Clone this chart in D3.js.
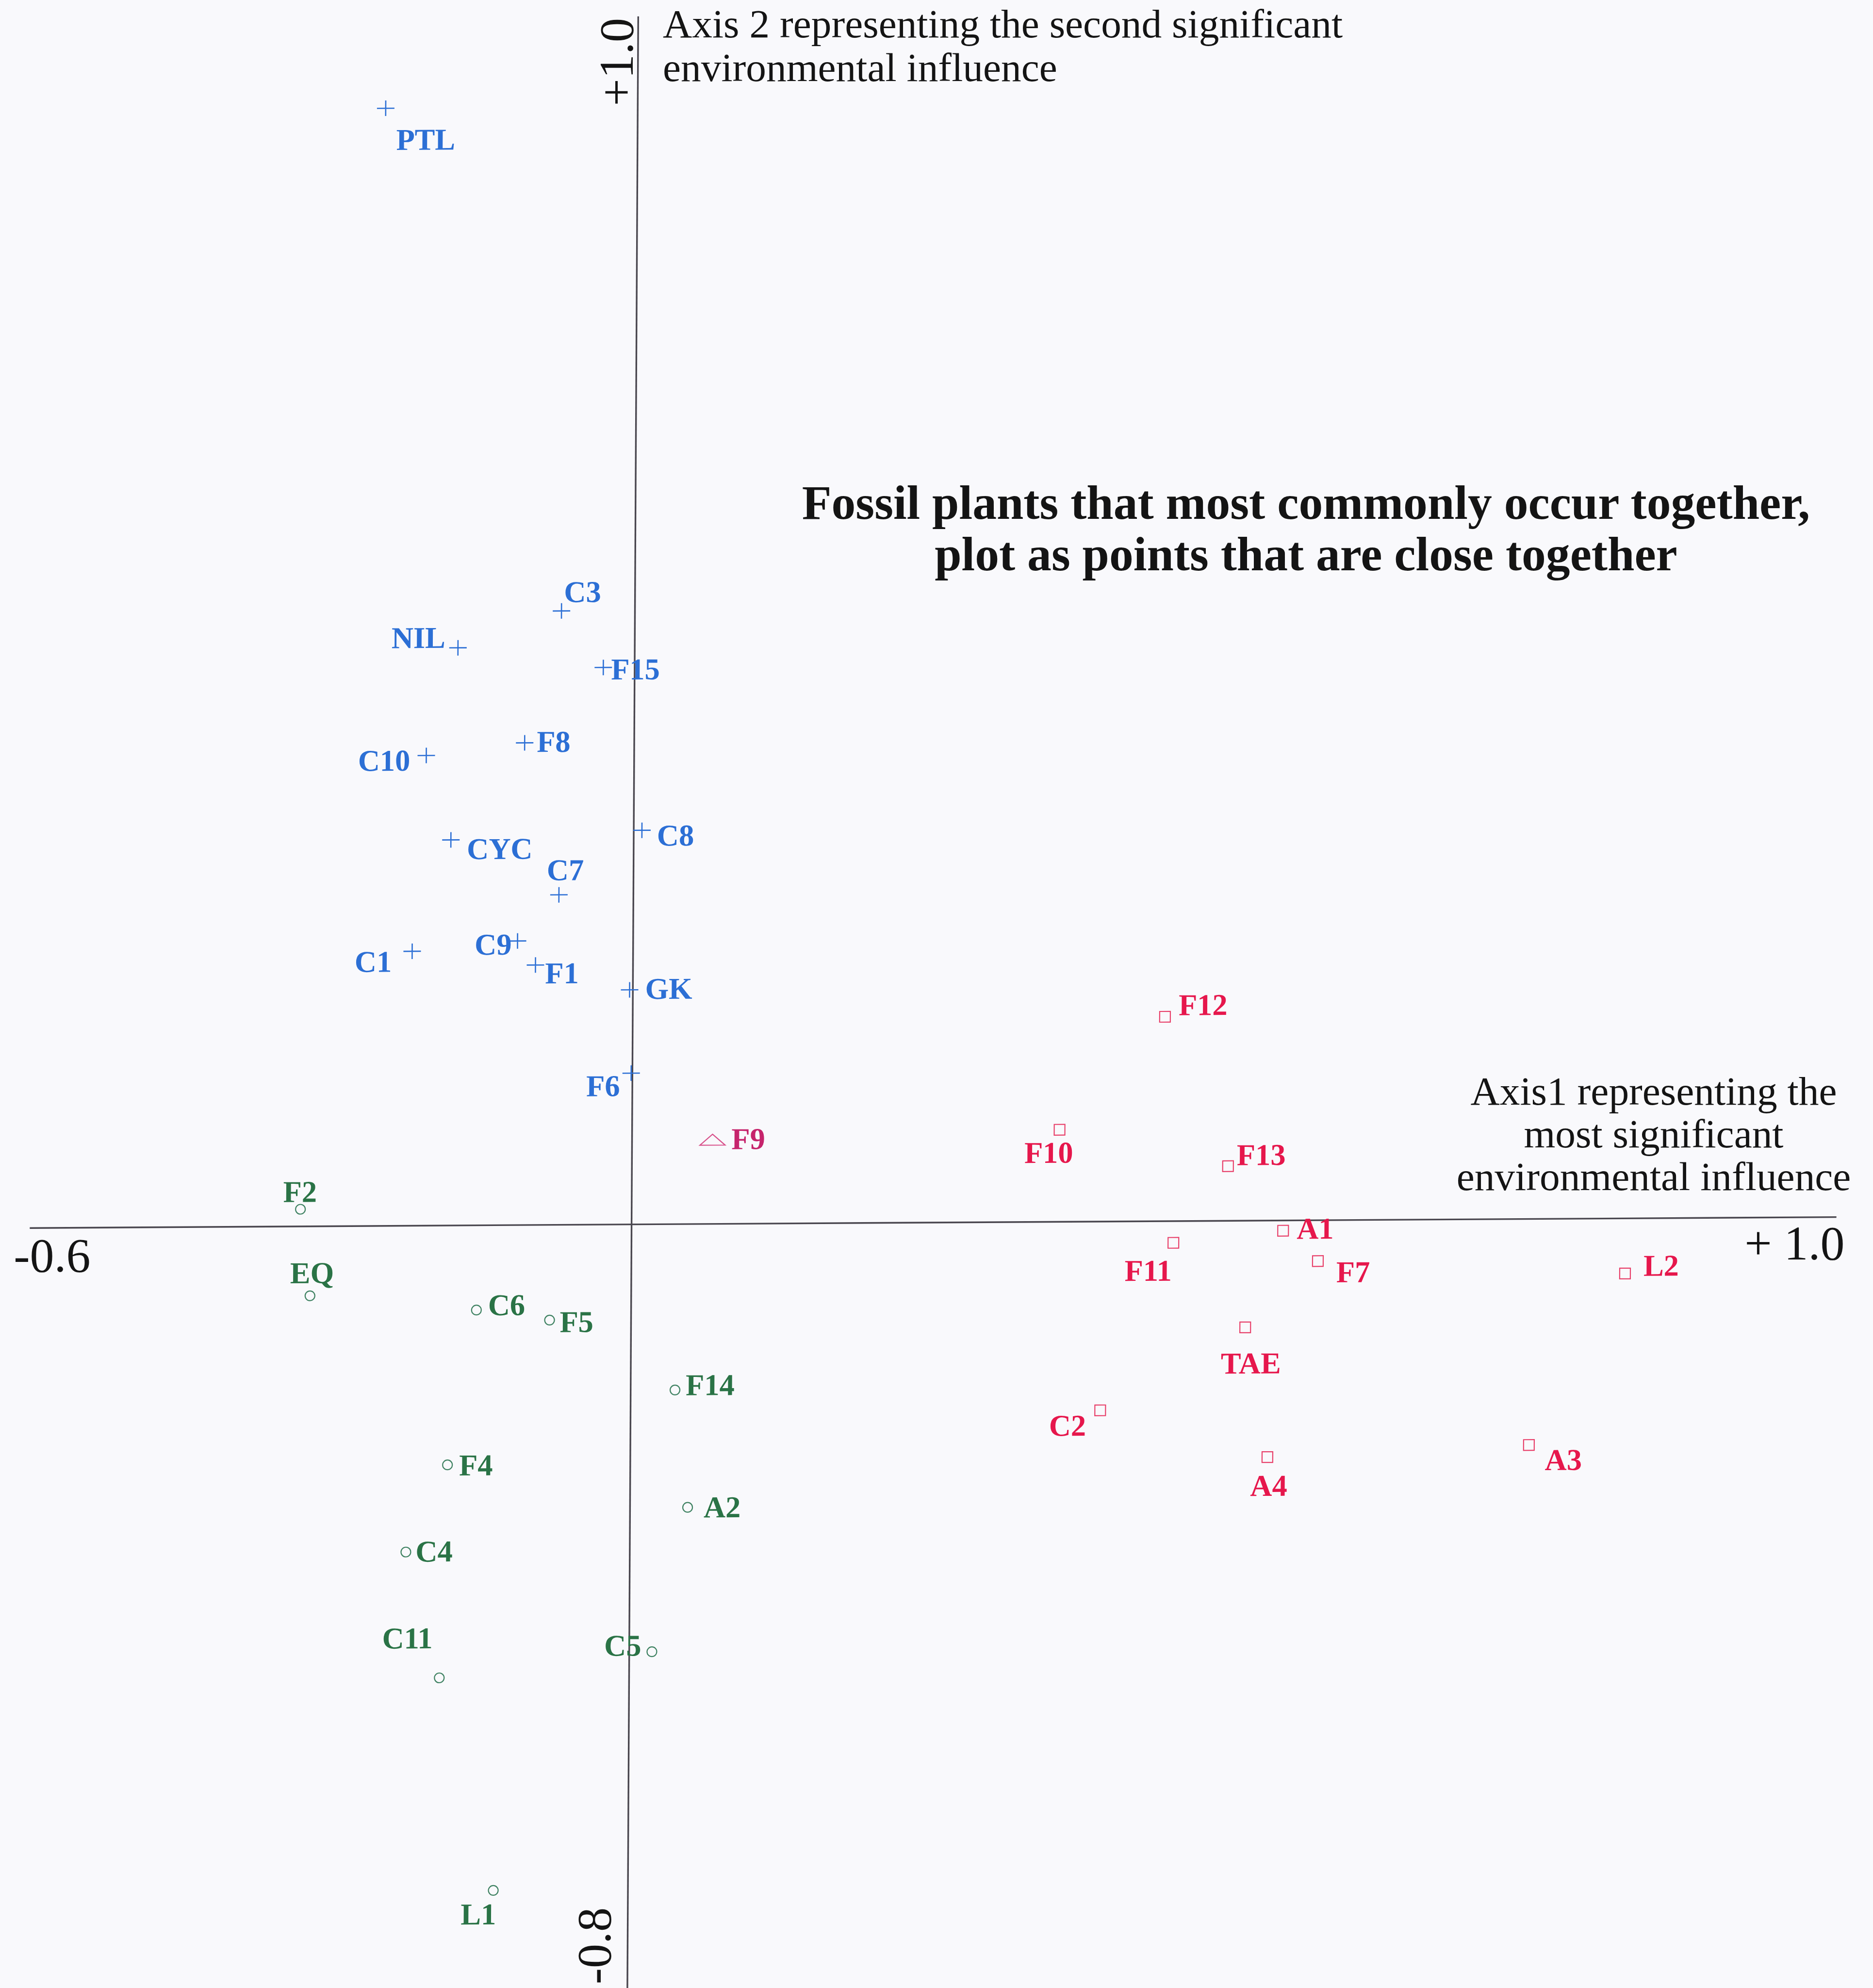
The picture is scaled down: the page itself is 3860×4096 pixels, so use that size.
<!DOCTYPE html>
<html>
<head>
<meta charset="utf-8">
<script src="https://cdn.jsdelivr.net/npm/d3@7/dist/d3.min.js"></script>
<style>
  html, body { margin: 0; padding: 0; background: #f9f9fc; }
  svg { display: block; }
</style>
</head>
<body>
<script>
// Correspondence analysis scores (axis 1, axis 2) for each site, by TWINSPAN group.
const plusSites  = ["PTL", "C3", "NIL", "F15", "F8", "C10", "C8", "CYC", "C7", "C9", "C1", "F1", "GK", "F6"];
const plusAxis1  = [-0.251, -0.073, -0.176, -0.031, -0.109, -0.207, 0.007, -0.182, -0.074, -0.115, -0.220, -0.097, -0.003, -0.001];
const plusAxis2  = [0.925, 0.508, 0.478, 0.461, 0.399, 0.389, 0.326, 0.319, 0.273, 0.235, 0.227, 0.215, 0.194, 0.125];

const squareSites = ["F12", "F10", "F13", "A1", "F11", "F7", "L2", "TAE", "C2", "A4", "A3"];
const squareAxis1 = [0.442, 0.355, 0.495, 0.541, 0.450, 0.570, 0.825, 0.510, 0.390, 0.529, 0.746];
const squareAxis2 = [0.169, 0.076, 0.045, -0.011, -0.023, -0.043, -0.058, -0.112, -0.198, -0.248, -0.237];

const triangleSites = ["F9"];
const triangleAxis1 = [0.067];
const triangleAxis2 = [0.068];

const circleSites = ["F2", "EQ", "C6", "F5", "F14", "F4", "A2", "C4", "C11", "C5", "L1"];
const circleAxis1 = [-0.330, -0.320, -0.154, -0.081, 0.037, -0.182, 0.048, -0.223, -0.189, 0.019, -0.134];
const circleAxis2 = [0.014, -0.073, -0.089, -0.100, -0.174, -0.251, -0.297, -0.342, -0.474, -0.448, -0.697];

// Axis extents and the labels written at their ends
const axis1Domain = [-0.6, 0, 1.0];
const axis2Domain = [-0.8, 0, 1.0];
const axis1EndLabels = ["-0.6", "+ 1.0"];
const axis2EndLabels = ["-0.8", "+1.0"];

const axis1Title = ["Axis1 representing the", "most significant", "environmental influence"];
const axis2Title = ["Axis 2 representing the second significant", "environmental influence"];
const noteLines  = ["Fossil plants that most commonly occur together,", "plot as points that are close together"];

// ---- layout (pixels) ----
const W = 3860, H = 4096;
const ox = 1301.1, oy = 2522.2;           // where the two axes cross
const serif = "'Liberation Serif', 'Times New Roman', serif";
const axisColor = "#4a474f";
const textColor = "#141414";

// label offset from its marker: [dx, dy, anchor]
const labelPlacement = {
  PTL: [22, 86, "start"], C3: [5, -18, "start"], NIL: [-26, 0, "end"], F15: [16, 25, "start"],
  F8: [25, 19, "start"], C10: [-33, 31, "end"], C8: [31, 32, "start"], CYC: [33, 40, "start"],
  C7: [13, -30, "middle"], C9: [-12, 28, "end"], C1: [-42, 42, "end"], F1: [20, 38, "start"],
  GK: [32, 19, "start"], F6: [-23, 47, "end"],
  F12: [28, -3, "start"], F10: [-22, 68, "middle"], F13: [18, -2, "start"], A1: [28, 17, "start"],
  F11: [-3, 78, "end"], F7: [38, 44, "start"], L2: [38, 5, "start"], TAE: [12, 95, "middle"],
  C2: [-29, 52, "end"], A4: [3, 80, "middle"], A3: [33, 52, "start"],
  F9: [39, 16, "start"],
  F2: [-1, -15, "middle"], EQ: [4, -26, "middle"], C6: [24, 11, "start"], F5: [21, 25, "start"],
  F14: [22, 11, "start"], F4: [24, 22, "start"], A2: [33, 21, "start"], C4: [20, 20, "start"],
  C11: [-14, -61, "end"], C5: [-22, 8, "end"], L1: [6, 70, "end"]
};

const groups = [
  { sites: plusSites, a1: plusAxis1, a2: plusAxis2, color: "#2c6fd5", stroke: "#2c6fd5",
    marker: "path", d: "M-18,0H18M0,-16V16", width: 2.6 },
  { sites: squareSites, a1: squareAxis1, a2: squareAxis2, color: "#e6174c", stroke: "#e8406a",
    marker: "rect", size: 22, width: 2.2 },
  { sites: triangleSites, a1: triangleAxis1, a2: triangleAxis2, color: "#c6246c", stroke: "#d8508a",
    marker: "path", d: "M0,-15L26,7.5L-26,7.5Z", width: 2.2 },
  { sites: circleSites, a1: circleAxis1, a2: circleAxis2, color: "#2a7346", stroke: "#3f8262",
    marker: "circle", r: 10, width: 2.2 }
];

const x = d3.scaleLinear().domain(axis1Domain).range([60.8, ox, 3784.1]);
const y = d3.scaleLinear().domain(axis2Domain).range([4095.9, oy, 33.3]);

const svg = d3.select("body").append("svg")
  .attr("width", W).attr("height", H)
  .attr("viewBox", `0 0 ${W} ${H}`);

svg.append("rect").attr("width", W).attr("height", H).attr("fill", "#f9f9fc");

// the printed axes are very slightly out of square
const plot = svg.append("g")
  .attr("transform", `translate(${ox},${oy}) matrix(1,-0.00605,-0.0055,1,0,0) translate(${-ox},${-oy})`);

const xAxis = d3.axisBottom(x).tickValues([]).tickSizeOuter(0);
const yAxis = d3.axisLeft(y).tickValues([]).tickSizeOuter(0);

plot.append("g").attr("transform", `translate(0,${y(0)})`).call(xAxis)
  .call(g => g.select(".domain").attr("stroke", axisColor).attr("stroke-width", 3.4));
plot.append("g").attr("transform", `translate(${x(0)},0)`).call(yAxis)
  .call(g => g.select(".domain").attr("stroke", axisColor).attr("stroke-width", 3.4));

// sites
groups.forEach(grp => {
  const pts = grp.sites.map((s, i) => ({ name: s, a1: grp.a1[i], a2: grp.a2[i] }));
  const site = plot.append("g").selectAll("g").data(pts).join("g")
    .attr("transform", d => `translate(${x(d.a1)},${y(d.a2)})`);

  if (grp.marker === "rect") {
    site.append("rect")
      .attr("x", -grp.size / 2).attr("y", -grp.size / 2)
      .attr("width", grp.size).attr("height", grp.size)
      .attr("fill", "none").attr("stroke", grp.stroke).attr("stroke-width", grp.width);
  } else if (grp.marker === "circle") {
    site.append("circle").attr("r", grp.r)
      .attr("fill", "none").attr("stroke", grp.stroke).attr("stroke-width", grp.width);
  } else {
    site.append("path").attr("d", grp.d)
      .attr("fill", "none").attr("stroke", grp.stroke).attr("stroke-width", grp.width);
  }

  site.append("text")
    .attr("x", d => labelPlacement[d.name][0])
    .attr("y", d => labelPlacement[d.name][1])
    .attr("text-anchor", d => labelPlacement[d.name][2])
    .attr("font-family", serif).attr("font-weight", "bold").attr("font-size", 62.5)
    .attr("fill", grp.color)
    .text(d => d.name);
});

// axis end values
const ends = svg.append("g").attr("font-family", serif).attr("font-size", 100).attr("fill", textColor);
ends.append("text").attr("x", 28.3).attr("y", 2619.7).text(axis1EndLabels[0]);
ends.append("text").attr("x", 3801.6).attr("y", 2594.7).attr("text-anchor", "end").text(axis1EndLabels[1]);
ends.append("text").attr("transform", "translate(1304.4,218.4) rotate(-90)").text(axis2EndLabels[1]);
ends.append("text").attr("transform", "translate(1257.8,3930) rotate(-90)")
  .attr("text-anchor", "end").text(axis2EndLabels[0]);

// axis titles
const titles = svg.append("g").attr("font-family", serif).attr("font-size", 83.4).attr("fill", textColor);
titles.selectAll(".a2").data(axis2Title).join("text")
  .attr("x", 1366).attr("y", (d, i) => 76.7 + i * 90).text(d => d);
titles.selectAll(".a1").data(axis1Title).join("text")
  .attr("x", 3408).attr("y", (d, i) => 2275.5 + i * 88).attr("text-anchor", "middle").text(d => d);

// explanatory note
svg.append("g").attr("font-family", serif).attr("font-size", 99.6).attr("font-weight", "bold").attr("fill", textColor)
  .selectAll("text").data(noteLines).join("text")
  .attr("x", 2691.5).attr("y", (d, i) => 1069.4 + i * 105.8).attr("text-anchor", "middle").text(d => d);
</script>
</body>
</html>
